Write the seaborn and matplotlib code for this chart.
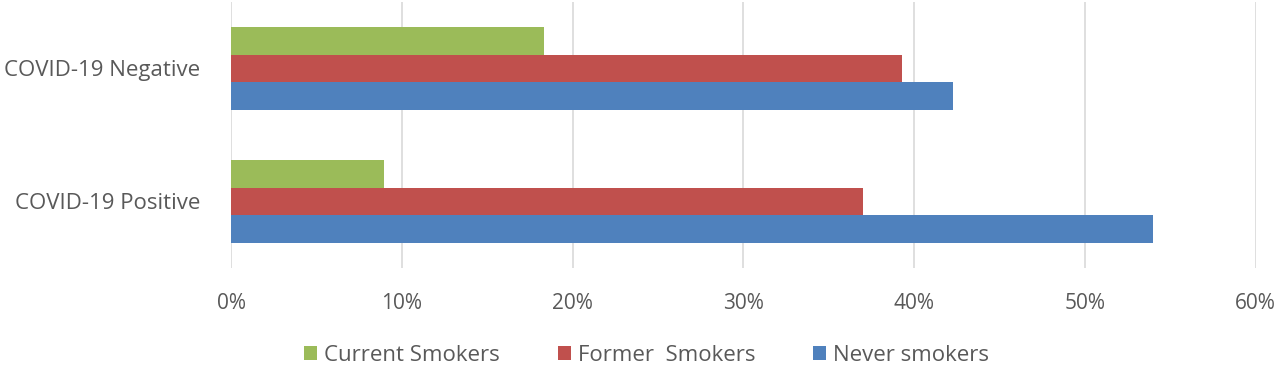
import matplotlib
matplotlib.use("Agg")
import matplotlib.pyplot as plt
import seaborn as sns
import pandas as pd
from matplotlib.ticker import PercentFormatter

# data
groups = ["COVID-19 Negative", "COVID-19 Positive"]
statuses = ["Current Smokers", "Former  Smokers", "Never smokers"]
current = [18.3, 8.95]
former = [39.3, 37.0]
never = [42.3, 54.0]
colors = ["#9BBB59", "#C0504D", "#4F81BD"]
xticks = [0, 10, 20, 30, 40, 50, 60]

rows = []
for i, g in enumerate(groups):
    for s, vals in zip(statuses, [current, former, never]):
        rows.append({"group": g, "status": s, "pct": vals[i]})
df = pd.DataFrame(rows)

sns.set_style("white")
plt.rcParams["font.family"] = ["Open Sans", "DejaVu Sans"]
textColor = "#595959"

fig = plt.figure(figsize=(12.8, 3.68), dpi=100)
ax = fig.add_axes([0.1805, 0.272, 0.8005, 0.7225])

sns.barplot(data=df, x="pct", y="group", hue="status", order=groups,
            hue_order=statuses, palette=colors, orient="h",
            width=0.62, saturation=1, linewidth=0, ax=ax, legend=True)

ax.set_xlim(0, 60)
ax.set_ylim(1.5, -0.5)
ax.set_xticks(xticks)
ax.xaxis.set_major_formatter(PercentFormatter(decimals=0))
ax.grid(axis="x", color="#D9D9D9", linewidth=1.2)
ax.set_axisbelow(True)
for sp in ax.spines.values():
    sp.set_visible(False)
ax.set_xlabel("")
ax.set_ylabel("")
ax.tick_params(axis="both", length=0, colors=textColor)
ax.tick_params(axis="y", pad=22, labelsize=16)
ax.tick_params(axis="x", pad=18, labelsize=15)

handles, labels = ax.get_legend_handles_labels()
ax.legend_.remove()
fig.legend(handles, labels, loc="center", bbox_to_anchor=(0.505, 0.035),
           ncol=3, frameon=False, fontsize=16, labelcolor=textColor,
           handlelength=0.6, handleheight=0.6, handletextpad=0.3,
           columnspacing=2.6)

fig.savefig("out.png", dpi=100)
